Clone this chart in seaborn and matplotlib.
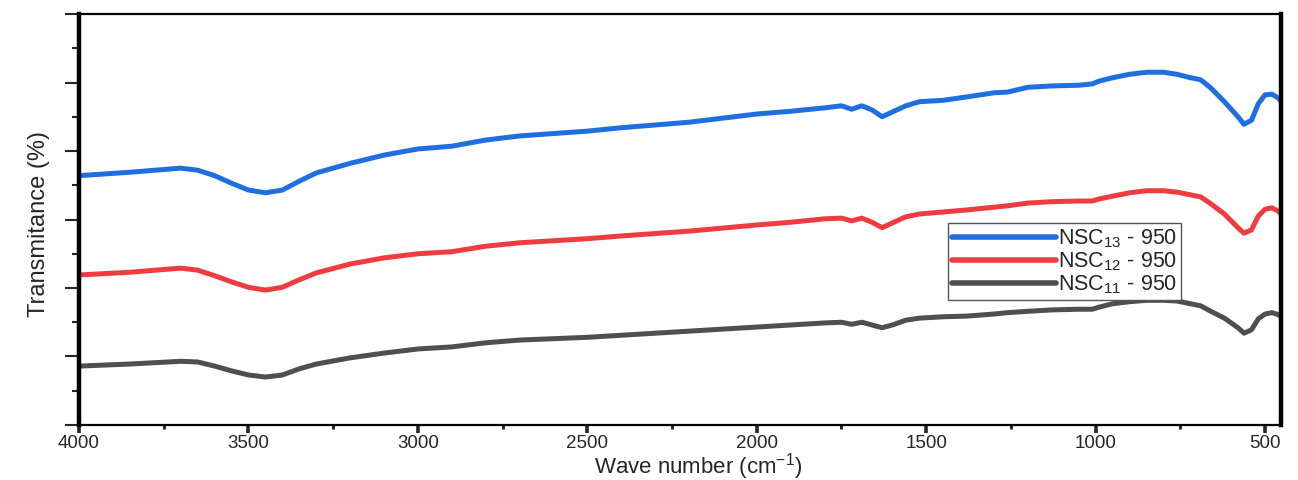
import numpy as np
import pandas as pd
import matplotlib
matplotlib.use("Agg")
import matplotlib.pyplot as plt
from matplotlib.ticker import MultipleLocator
import seaborn as sns

# FTIR spectra (wavenumber in cm^-1, transmittance in %, curves offset vertically)
wavenumber = [4000, 3850, 3700, 3650, 3600, 3550, 3500, 3450, 3400, 3350,
              3300, 3200, 3100, 3000, 2900, 2800, 2700, 2500, 2400, 2200,
              2000, 1900, 1800, 1750, 1720, 1690, 1660, 1630, 1600, 1560,
              1520, 1450, 1380, 1300, 1260, 1200, 1130, 1050, 1010, 990,
              950, 900, 850, 800, 760, 720, 690, 660, 620, 580,
              562, 540, 520, 500, 480, 460, 453]

nsc13 = [36.4, 36.9, 37.5, 37.2, 36.4, 35.3, 34.3, 33.9, 34.3, 35.6,
         36.8, 38.2, 39.4, 40.3, 40.7, 41.6, 42.2, 42.9, 43.4, 44.2,
         45.4, 45.8, 46.3, 46.6, 46.1, 46.6, 46.0, 45.0, 45.7, 46.6,
         47.2, 47.4, 47.9, 48.5, 48.6, 49.3, 49.5, 49.6, 49.8, 50.2,
         50.7, 51.2, 51.5, 51.5, 51.2, 50.7, 50.4, 49.2, 47.2, 45.0,
         43.9, 44.5, 46.9, 48.2, 48.3, 47.7, 47.2]

nsc12 = [21.9, 22.3, 22.9, 22.6, 21.8, 20.9, 20.1, 19.7, 20.1, 21.2,
         22.2, 23.5, 24.4, 25.0, 25.3, 26.1, 26.6, 27.2, 27.6, 28.3,
         29.2, 29.6, 30.1, 30.2, 29.8, 30.2, 29.6, 28.8, 29.5, 30.4,
         30.8, 31.1, 31.4, 31.8, 32.0, 32.4, 32.6, 32.7, 32.7, 33.0,
         33.4, 33.9, 34.2, 34.2, 34.0, 33.6, 33.3, 32.3, 30.8, 28.8,
         28.0, 28.5, 30.5, 31.5, 31.7, 31.2, 30.8]

nsc11 = [8.6, 8.9, 9.3, 9.2, 8.6, 7.9, 7.3, 7.0, 7.3, 8.2,
         8.9, 9.8, 10.5, 11.1, 11.4, 12.0, 12.4, 12.8, 13.1, 13.7,
         14.3, 14.6, 14.9, 15.0, 14.7, 15.0, 14.6, 14.2, 14.6, 15.3,
         15.6, 15.8, 15.9, 16.2, 16.4, 16.6, 16.8, 16.9, 16.9, 17.2,
         17.7, 18.0, 18.2, 18.2, 18.1, 17.7, 17.4, 16.6, 15.6, 14.2,
         13.4, 13.9, 15.5, 16.2, 16.4, 16.1, 15.8]

series_labels = [r"NSC$_{13}$ - 950", r"NSC$_{12}$ - 950", r"NSC$_{11}$ - 950"]
series_colors = ["#1f6fe0", "#ef3c40", "#4f4f4f"]

sns.set_style("ticks")
plt.rcParams["font.family"] = ["Liberation Sans", "DejaVu Sans"]
plt.rcParams["mathtext.fontset"] = "custom"
plt.rcParams["mathtext.rm"] = "Liberation Sans"
plt.rcParams["mathtext.it"] = "Liberation Sans:italic"

frames = []
for lab, vals in zip(series_labels, [nsc13, nsc12, nsc11]):
    frames.append(pd.DataFrame({"wn": wavenumber, "T": vals, "sample": lab}))
df = pd.concat(frames, ignore_index=True)

fig = plt.figure(figsize=(12.98, 4.80), dpi=100)
ax = fig.add_axes([0.0609, 0.1146, 0.9260, 0.8562])

sns.lineplot(data=df, x="wn", y="T", hue="sample", hue_order=series_labels,
             palette=series_colors, sort=False, estimator=None,
             linewidth=3.6, ax=ax, legend=True)

ax.set_xlim(4000, 453)
ax.set_ylim(0, 60)
ax.xaxis.set_major_locator(MultipleLocator(500))
ax.xaxis.set_minor_locator(MultipleLocator(250))
ax.yaxis.set_major_locator(MultipleLocator(10))
ax.yaxis.set_minor_locator(MultipleLocator(5))
ax.set_yticklabels([])
ax.tick_params(axis="x", which="major", direction="out", length=5.5, width=2.6,
               labelsize=13.5, pad=2, top=False)
ax.tick_params(axis="x", which="minor", direction="out", length=3, width=2.2, top=False)
ax.tick_params(axis="y", which="major", direction="out", length=10, width=1.5,
               right=False, labelleft=False)
ax.tick_params(axis="y", which="minor", direction="out", length=5, width=1.5, right=False)

for side in ["left", "right"]:
    ax.spines[side].set_linewidth(3.2)
for side in ["top", "bottom"]:
    ax.spines[side].set_linewidth(1.6)
for s in ax.spines.values():
    s.set_color("black")

ax.set_xlabel(r"Wave number (cm$^{-1}$)", fontsize=16)
ax.xaxis.set_label_coords(0.515, -0.138)
ax.xaxis.label.set_verticalalignment("bottom")
ax.set_ylabel("Transmitance (%)", fontsize=17)
ax.yaxis.set_label_coords(-0.024, 0.489)

handles, labels = ax.get_legend_handles_labels()
leg = ax.legend(handles, labels, loc="center", bbox_to_anchor=(0.82, 0.397),
                fontsize=15.5, handlelength=4.8, handletextpad=0.1,
                labelspacing=0.02, borderpad=0.2, borderaxespad=0,
                fancybox=False, framealpha=1, edgecolor="#555555")
leg.get_frame().set_linewidth(1.0)
for line in leg.get_lines():
    line.set_linewidth(4)

fig.savefig("out.png", dpi=100)
